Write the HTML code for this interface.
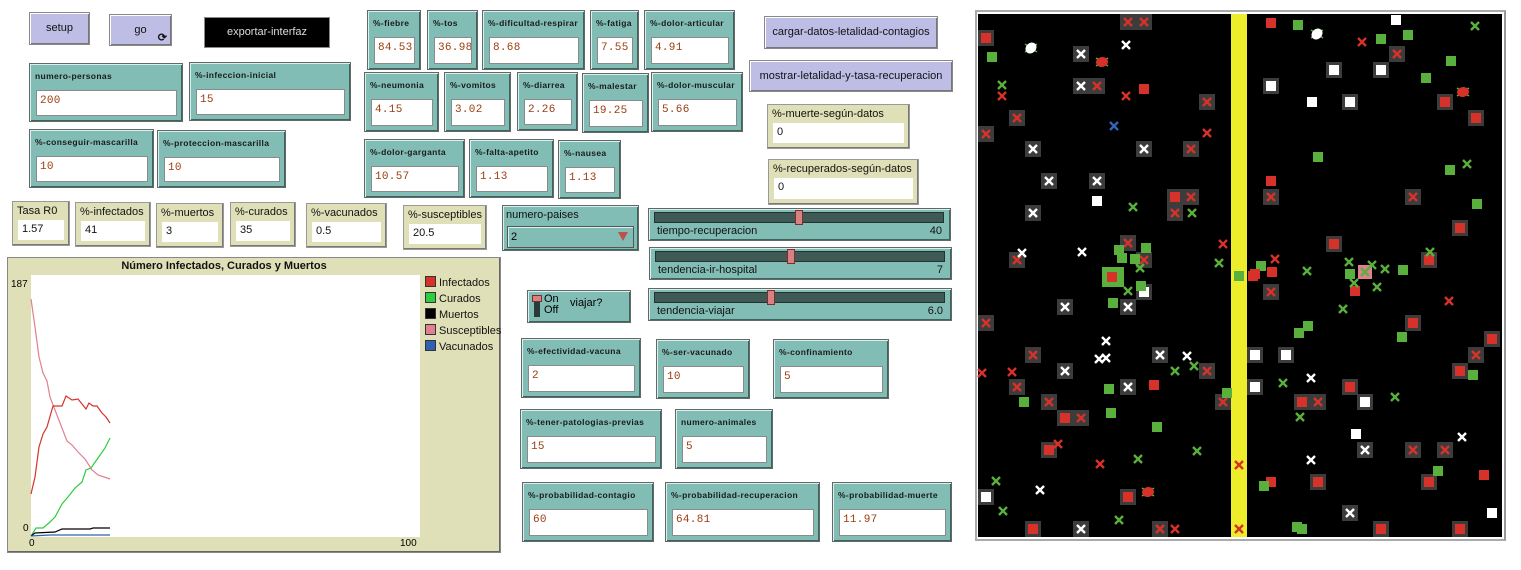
<!DOCTYPE html>
<html><head><meta charset="utf-8">
<style>
body{margin:0;width:1521px;height:570px;background:#fff;position:relative;overflow:hidden;font-family:"Liberation Sans",sans-serif;}
div{box-sizing:border-box;}
.bt{position:absolute;background:#bdbde6;border:1px solid #888;box-shadow:inset 1px 1px 0 #fff,inset -1px -1px 0 #777;font-size:11px;color:#111;text-align:center;}
.in{position:absolute;background:#82bdb5;border:1px solid #666;box-shadow:inset 1px 1px 0 #d6f2ee,inset -1px -1px 0 #3a6660;}
.in .l{position:absolute;left:5px;top:7px;font-size:8.5px;font-weight:bold;letter-spacing:0.35px;color:#1a1a1a;white-space:nowrap;}
.in .v{position:absolute;left:6px;right:5px;top:26px;bottom:5px;background:#fff;border:1px solid #8a8a8a;font-family:"Liberation Mono",monospace;font-size:11px;color:#9a3d10;padding:4px 0 0 3px;letter-spacing:0.3px;white-space:nowrap;overflow:hidden;}
.mo{position:absolute;background:#e0e0b8;border:1px solid #999;box-shadow:inset -1px -1px 0 #777;}
.mo .l{position:absolute;left:4px;top:3px;font-size:11px;color:#111;white-space:nowrap;}
.mo .v{position:absolute;left:5px;right:5px;top:18px;bottom:5px;background:#fff;font-size:11px;color:#111;padding:3px 0 0 4px;}
.sl{position:absolute;background:#82bdb5;border:1px solid #666;box-shadow:inset 1px 1px 0 #d6f2ee,inset -1px -1px 0 #3a6660;}
.sl .t{position:absolute;left:5px;right:6px;top:3px;height:11px;background:#3f5a55;border:1px solid #233;}
.sl .h{position:absolute;top:1px;width:8px;height:15px;background:#d98080;border:1px solid #7a3030;}
.sl .a{position:absolute;left:8px;top:16px;font-size:11px;color:#111;}
.sl .b{position:absolute;right:8px;top:16px;font-size:11px;color:#111;}
</style></head><body>

<div class="bt" style="left:29px;top:12px;width:61px;height:33px;line-height:31px;">setup</div>
<div class="bt" style="left:109px;top:14px;width:63px;height:32px;line-height:30px;">go<span style="position:absolute;right:4px;bottom:1px;font-size:11px;font-weight:bold;line-height:12px;">⟳</span></div>
<div style="position:absolute;left:204px;top:17px;width:126px;height:31px;background:#000;border:1px solid #888;color:#ddd;font-size:11px;text-align:center;line-height:29px;">exportar-interfaz</div>

<div class="in" style="left:29px;top:63px;width:154px;height:59px;"><span class="l">numero-personas</span><div class="v">200</div></div>
<div class="in" style="left:189px;top:62px;width:162px;height:59px;"><span class="l">%-infeccion-inicial</span><div class="v">15</div></div>
<div class="in" style="left:29px;top:129px;width:125px;height:59px;"><span class="l">%-conseguir-mascarilla</span><div class="v">10</div></div>
<div class="in" style="left:157px;top:130px;width:129px;height:58px;"><span class="l">%-proteccion-mascarilla</span><div class="v">10</div></div>

<div class="in" style="left:367px;top:10px;width:54px;height:60px;"><span class="l">%-fiebre</span><div class="v">84.53</div></div>
<div class="in" style="left:427px;top:10px;width:51px;height:60px;"><span class="l">%-tos</span><div class="v">36.98</div></div>
<div class="in" style="left:482px;top:10px;width:103px;height:60px;"><span class="l">%-dificultad-respirar</span><div class="v">8.68</div></div>
<div class="in" style="left:590px;top:10px;width:49px;height:60px;"><span class="l">%-fatiga</span><div class="v">7.55</div></div>
<div class="in" style="left:644px;top:10px;width:91px;height:60px;"><span class="l">%-dolor-articular</span><div class="v">4.91</div></div>

<div class="in" style="left:364px;top:72px;width:75px;height:60px;"><span class="l">%-neumonia</span><div class="v">4.15</div></div>
<div class="in" style="left:444px;top:72px;width:67px;height:60px;"><span class="l">%-vomitos</span><div class="v">3.02</div></div>
<div class="in" style="left:517px;top:72px;width:61px;height:59px;"><span class="l">%-diarrea</span><div class="v">2.26</div></div>
<div class="in" style="left:582px;top:73px;width:67px;height:60px;"><span class="l">%-malestar</span><div class="v">19.25</div></div>
<div class="in" style="left:651px;top:72px;width:92px;height:60px;"><span class="l">%-dolor-muscular</span><div class="v">5.66</div></div>

<div class="in" style="left:364px;top:139px;width:101px;height:59px;"><span class="l">%-dolor-garganta</span><div class="v">10.57</div></div>
<div class="in" style="left:469px;top:139px;width:85px;height:59px;"><span class="l">%-falta-apetito</span><div class="v">1.13</div></div>
<div class="in" style="left:558px;top:140px;width:63px;height:59px;"><span class="l">%-nausea</span><div class="v">1.13</div></div>

<div class="mo" style="left:12px;top:201px;width:58px;height:45px;"><span class="l">Tasa R0</span><div class="v">1.57</div></div>
<div class="mo" style="left:75px;top:202px;width:76px;height:45px;"><span class="l">%-infectados</span><div class="v">41</div></div>
<div class="mo" style="left:156px;top:203px;width:68px;height:45px;"><span class="l">%-muertos</span><div class="v">3</div></div>
<div class="mo" style="left:230px;top:202px;width:66px;height:45px;"><span class="l">%-curados</span><div class="v">35</div></div>
<div class="mo" style="left:306px;top:203px;width:81px;height:45px;"><span class="l">%-vacunados</span><div class="v">0.5</div></div>
<div class="mo" style="left:403px;top:205px;width:84px;height:45px;"><span class="l">%-susceptibles</span><div class="v">20.5</div></div>

<div class="bt" style="left:764px;top:16px;width:174px;height:33px;line-height:31px;">cargar-datos-letalidad-contagios</div>
<div class="bt" style="left:749px;top:60px;width:204px;height:32px;line-height:30px;">mostrar-letalidad-y-tasa-recuperacion</div>
<div class="mo" style="left:767px;top:104px;width:143px;height:45px;"><span class="l">%-muerte-según-datos</span><div class="v">0</div></div>
<div class="mo" style="left:768px;top:159px;width:151px;height:46px;"><span class="l">%-recuperados-según-datos</span><div class="v">0</div></div>

<div class="in" style="left:502px;top:205px;width:137px;height:46px;"><span style="position:absolute;left:3px;top:3px;font-size:11px;color:#111;">numero-paises</span><div style="position:absolute;left:4px;right:4px;top:20px;height:22px;border:1px solid #555;box-shadow:inset 1px 1px 0 #d6f2ee;font-size:11px;padding:4px 0 0 3px;">2<span style="position:absolute;right:5px;top:5px;width:0;height:0;border-left:5px solid transparent;border-right:5px solid transparent;border-top:9px solid #c05050;"></span></div></div>

<div class="sl" style="left:648px;top:208px;width:303px;height:33px;"><div class="t"></div><div class="h" style="left:146px;"></div><span class="a">tiempo-recuperacion</span><span class="b">40</span></div>
<div class="sl" style="left:649px;top:247px;width:303px;height:33px;"><div class="t"></div><div class="h" style="left:137px;"></div><span class="a">tendencia-ir-hospital</span><span class="b">7</span></div>
<div class="sl" style="left:648px;top:288px;width:304px;height:33px;"><div class="t"></div><div class="h" style="left:118px;"></div><span class="a">tendencia-viajar</span><span class="b">6.0</span></div>

<div class="in" style="left:527px;top:290px;width:104px;height:33px;"><div style="position:absolute;left:6px;top:11px;width:6px;height:15px;background:#2a3a38;"></div><div style="position:absolute;left:4px;top:4px;width:10px;height:7px;background:#d98080;border:1px solid #7a3030;"></div><span style="position:absolute;left:16px;top:3px;font-size:11px;line-height:11px;">On<br>Off</span><span style="position:absolute;left:42px;top:6px;font-size:11px;">viajar?</span></div>

<div class="in" style="left:521px;top:338px;width:120px;height:60px;"><span class="l">%-efectividad-vacuna</span><div class="v">2</div></div>
<div class="in" style="left:656px;top:339px;width:94px;height:60px;"><span class="l">%-ser-vacunado</span><div class="v">10</div></div>
<div class="in" style="left:773px;top:339px;width:116px;height:60px;"><span class="l">%-confinamiento</span><div class="v">5</div></div>
<div class="in" style="left:520px;top:409px;width:142px;height:60px;"><span class="l">%-tener-patologias-previas</span><div class="v">15</div></div>
<div class="in" style="left:675px;top:409px;width:98px;height:60px;"><span class="l">numero-animales</span><div class="v">5</div></div>
<div class="in" style="left:522px;top:482px;width:132px;height:60px;"><span class="l">%-probabilidad-contagio</span><div class="v">60</div></div>
<div class="in" style="left:665px;top:482px;width:155px;height:60px;"><span class="l">%-probabilidad-recuperacion</span><div class="v">64.81</div></div>
<div class="in" style="left:832px;top:482px;width:120px;height:60px;"><span class="l">%-probabilidad-muerte</span><div class="v">11.97</div></div>

<!-- plot -->
<div style="position:absolute;left:7px;top:257px;width:494px;height:296px;background:#e0e0b8;border:1px solid #888;box-shadow:inset -1px -1px 0 #666;"></div>
<div style="position:absolute;left:31px;top:275px;width:389px;height:262px;background:#fff;"></div>
<div style="position:absolute;left:7px;top:260px;width:434px;text-align:center;font-size:11px;font-weight:bold;color:#111;">Número Infectados, Curados y Muertos</div>
<div style="position:absolute;left:11px;top:279px;font-size:10px;">187</div>
<div style="position:absolute;left:23px;top:523px;font-size:10px;">0</div>
<div style="position:absolute;left:29px;top:538px;font-size:10px;">0</div>
<div style="position:absolute;left:400px;top:538px;font-size:10px;">100</div>
<div style="position:absolute;left:425px;top:275px;font-size:11px;line-height:16px;color:#111;">
<div><span style="display:inline-block;width:9px;height:9px;background:#d73229;border:1px solid #333;vertical-align:-1px;margin-right:3px;"></span>Infectados</div>
<div><span style="display:inline-block;width:9px;height:9px;background:#2ecc40;border:1px solid #333;vertical-align:-1px;margin-right:3px;"></span>Curados</div>
<div><span style="display:inline-block;width:9px;height:9px;background:#000;border:1px solid #333;vertical-align:-1px;margin-right:3px;"></span>Muertos</div>
<div><span style="display:inline-block;width:9px;height:9px;background:#e08090;border:1px solid #333;vertical-align:-1px;margin-right:3px;"></span>Susceptibles</div>
<div><span style="display:inline-block;width:9px;height:9px;background:#3060b0;border:1px solid #333;vertical-align:-1px;margin-right:3px;"></span>Vacunados</div>
</div>
<svg style="position:absolute;left:0;top:0" width="520" height="560" fill="none" stroke-width="1.2">
<polyline stroke="#e08090" points="31,299 35,327 39,357 43,373 47,381 50,397 55,410 67,441 72,445 78,452 85,459 92,470 98,475 110,479"/>
<polyline stroke="#d73229" points="31,494 35,477 39,447 43,434 47,427 53,406 62,406 66,396 72,400 78,399 86,409 89,403 93,406 97,406 102,413 106,417 110,423"/>
<polyline stroke="#2ecc40" points="31,536 36,528 43,528 50,522 55,517 62,504 68,497 75,488 82,482 86,470 91,468 98,458 105,448 110,438"/>
<polyline stroke="#000" points="31,536 35,533 55,532 62,529 90,529 93,528 110,528"/>
<polyline stroke="#3060b0" points="31,536 50,535 110,535"/>
</svg>

<!-- world -->
<div style="position:absolute;left:975px;top:10px;width:531px;height:531px;border:2px solid #aaa;border-right-color:#999;background:#fff;"></div>
<svg style="position:absolute;left:0;top:0" width="1521" height="570">
<defs>
<rect id="gp" x="-8" y="-8" width="16" height="16" fill="#3c3c3c"/>
<path id="rx" d="M-4,-4L4,4M4,-4L-4,4" stroke="#d73229" stroke-width="2.4"/>
<path id="wx" d="M-4,-4L4,4M4,-4L-4,4" stroke="#fff" stroke-width="2.4"/>
<path id="gx" d="M-4,-4L4,4M4,-4L-4,4" stroke="#59b03c" stroke-width="2.4"/>
<path id="bx" d="M-4,-4L4,4M4,-4L-4,4" stroke="#3464b4" stroke-width="2.4"/>
<rect id="rs" x="-5" y="-5" width="10" height="10" fill="#d73229"/>
<rect id="gs" x="-5" y="-5" width="10" height="10" fill="#59b03c"/>
<rect id="ws" x="-5" y="-5" width="10" height="10" fill="#fff"/>
<g id="gR"><use href="#gp"/><use href="#rx"/></g>
<g id="gW"><use href="#gp"/><use href="#wx"/></g>
<g id="gS"><use href="#gp"/><use href="#rs"/></g>
<g id="gQ"><use href="#gp"/><use href="#ws"/></g>
<g id="tw"><path d="M-6,-4L6,4M-6,4L6,-4" stroke="#59b03c" stroke-width="1.5"/><ellipse rx="5" ry="6" fill="#fff" transform="rotate(45)"/></g>
<g id="tr"><path d="M-6,-4L6,4M-6,4L6,-4" stroke="#59b03c" stroke-width="1.5"/><ellipse rx="5" ry="6" fill="#d73229" transform="rotate(80)"/></g>
</defs>
<rect x="978" y="14" width="524" height="523" fill="#000"/>
<rect x="1231" y="14" width="16" height="523" fill="#eded2c"/>
<g>
<use href="#gR" x="1128" y="22"/><use href="#gR" x="1144" y="22"/><use href="#gS" x="986" y="38"/>
<use href="#gs" x="992" y="57"/><use href="#gW" x="1081" y="54"/><use href="#wx" x="1126" y="45"/>
<use href="#gW" x="1081" y="86"/><use href="#gR" x="1097" y="86"/><use href="#gx" x="1002" y="85"/><use href="#rx" x="1002" y="96"/>
<use href="#rx" x="1126" y="96"/><use href="#rs" x="1144" y="89"/><use href="#gR" x="1207" y="102"/><use href="#gR" x="1017" y="118"/>
<use href="#bx" x="1114" y="126"/><use href="#gR" x="986" y="134"/><use href="#rx" x="1207" y="133"/>
<use href="#gW" x="1033" y="149"/><use href="#gW" x="1144" y="149"/><use href="#gR" x="1191" y="149"/>
<use href="#gW" x="1049" y="181"/><use href="#gW" x="1097" y="181"/><use href="#ws" x="1097" y="201"/>
<use href="#gS" x="1175" y="197"/><use href="#gR" x="1191" y="197"/>
<use href="#gW" x="1033" y="213"/><use href="#gx" x="1133" y="207"/><use href="#gR" x="1175" y="213"/><use href="#gx" x="1192" y="213"/>
<use href="#gR" x="1128" y="243"/><use href="#gR" x="1017" y="260"/><use href="#wx" x="1022" y="253"/><use href="#wx" x="1082" y="252"/>
<use href="#rx" x="1223" y="244"/><use href="#gx" x="1219" y="263"/>
<use href="#gR" x="1144" y="260"/><use href="#gs" x="1119" y="250"/><use href="#gs" x="1146" y="248"/><use href="#gs" x="1122" y="258"/><use href="#gs" x="1135" y="259"/><use href="#gx" x="1140" y="268"/>
<rect x="1102" y="267" width="22" height="20" fill="#59b03c"/><rect x="1107" y="272" width="10" height="10" fill="#d73229"/>
<use href="#gx" x="1128" y="291"/><use href="#gQ" x="1144" y="292"/><use href="#gs" x="1141" y="286"/>
<use href="#gs" x="1113" y="303"/><use href="#gW" x="1128" y="307"/><use href="#gW" x="1065" y="307"/><use href="#gR" x="986" y="323"/>
<use href="#wx" x="1106" y="341"/><use href="#wx" x="1099" y="359"/><use href="#wx" x="1106" y="358"/>
<use href="#gW" x="1160" y="355"/><use href="#wx" x="1187" y="356"/><use href="#gx" x="1194" y="366"/><use href="#gx" x="1175" y="371"/><use href="#gR" x="1207" y="371"/>
<use href="#gR" x="1033" y="355"/><use href="#gW" x="1065" y="371"/><use href="#rx" x="982" y="373"/><use href="#rx" x="1012" y="372"/>
<use href="#gR" x="1017" y="387"/><use href="#gs" x="1024" y="402"/><use href="#gR" x="1049" y="402"/>
<use href="#gS" x="1065" y="418"/><use href="#gR" x="1081" y="418"/><use href="#gs" x="1109" y="389"/><use href="#gW" x="1128" y="387"/><use href="#rs" x="1154" y="385"/>
<use href="#gs" x="1111" y="413"/><use href="#gs" x="1157" y="427"/><use href="#gR" x="1223" y="402"/><use href="#gs" x="1227" y="393"/>
<use href="#gS" x="1049" y="450"/><use href="#rx" x="1058" y="444"/><use href="#rx" x="1100" y="464"/><use href="#gx" x="1138" y="459"/><use href="#gx" x="1197" y="451"/>
<use href="#rx" x="1239" y="465"/><use href="#rx" x="1239" y="529"/><use href="#gs" x="1239" y="276"/><use href="#rs" x="1253" y="276"/>
<use href="#gx" x="996" y="481"/><use href="#wx" x="1040" y="490"/><use href="#gQ" x="986" y="497"/><use href="#gx" x="1003" y="511"/>
<use href="#gS" x="1128" y="497"/><use href="#gx" x="1119" y="520"/><use href="#gS" x="1033" y="529"/><use href="#gW" x="1081" y="529"/><use href="#gR" x="1160" y="529"/><use href="#rx" x="1175" y="529"/>
<use href="#tw" x="1031" y="48"/><use href="#tr" x="1102" y="62"/><use href="#tr" x="1148" y="492"/>

<use href="#rs" x="1271" y="23"/><use href="#gs" x="1298" y="25"/><use href="#ws" x="1396" y="20"/><use href="#gx" x="1475" y="26"/>
<use href="#rx" x="1362" y="42"/><use href="#gs" x="1381" y="39"/><use href="#gs" x="1408" y="35"/><use href="#gR" x="1397" y="54"/>
<use href="#gQ" x="1334" y="70"/><use href="#gQ" x="1381" y="70"/><use href="#gs" x="1451" y="61"/><use href="#gs" x="1426" y="78"/>
<use href="#gQ" x="1271" y="86"/><use href="#ws" x="1312" y="102"/><use href="#gQ" x="1350" y="102"/>
<use href="#gS" x="1445" y="102"/><use href="#gS" x="1476" y="118"/>
<use href="#gs" x="1318" y="157"/><use href="#gx" x="1467" y="164"/><use href="#gs" x="1450" y="170"/>
<use href="#rs" x="1271" y="181"/><use href="#gR" x="1271" y="197"/><use href="#gR" x="1413" y="197"/><use href="#gs" x="1477" y="204"/>
<use href="#gS" x="1460" y="228"/><use href="#gS" x="1334" y="244"/><use href="#gS" x="1429" y="260"/><use href="#gx" x="1430" y="252"/>
<use href="#rx" x="1275" y="259"/><use href="#gs" x="1261" y="266"/><use href="#rs" x="1272" y="272"/><use href="#rs" x="1255" y="274"/>
<use href="#gx" x="1307" y="271"/><use href="#gx" x="1349" y="262"/><use href="#gs" x="1350" y="274"/>
<rect x="1358" y="265" width="14" height="14" fill="#e08090"/><use href="#gx" x="1365" y="272"/>
<use href="#gx" x="1372" y="265"/><use href="#gx" x="1385" y="269"/><use href="#gs" x="1403" y="270"/>
<use href="#gR" x="1271" y="292"/><use href="#rs" x="1355" y="291"/><use href="#gx" x="1354" y="283"/><use href="#gx" x="1377" y="287"/>
<use href="#rx" x="1449" y="301"/><use href="#gx" x="1343" y="309"/>
<use href="#gS" x="1413" y="323"/><use href="#gs" x="1308" y="326"/><use href="#gs" x="1299" y="333"/><use href="#gs" x="1402" y="337"/>
<use href="#gS" x="1492" y="339"/><use href="#gR" x="1476" y="355"/><use href="#gS" x="1460" y="371"/><use href="#gs" x="1473" y="375"/>
<use href="#gQ" x="1255" y="355"/><use href="#gQ" x="1286" y="355"/>
<use href="#gQ" x="1255" y="387"/><use href="#gx" x="1283" y="383"/><use href="#wx" x="1311" y="378"/>
<use href="#gS" x="1350" y="387"/><use href="#gS" x="1302" y="402"/><use href="#gR" x="1318" y="402"/><use href="#gQ" x="1365" y="402"/><use href="#gx" x="1395" y="397"/>
<use href="#gx" x="1300" y="417"/><use href="#ws" x="1356" y="434"/><use href="#wx" x="1462" y="437"/>
<use href="#gW" x="1365" y="450"/><use href="#gR" x="1413" y="450"/><use href="#gR" x="1445" y="450"/><use href="#wx" x="1311" y="460"/>
<use href="#rs" x="1271" y="482"/><use href="#gs" x="1264" y="486"/><use href="#gS" x="1318" y="482"/><use href="#gS" x="1429" y="482"/><use href="#gs" x="1438" y="471"/><use href="#rs" x="1484" y="475"/>
<use href="#gW" x="1350" y="513"/><use href="#ws" x="1492" y="513"/>
<use href="#gs" x="1297" y="527"/><use href="#gs" x="1302" y="529"/><use href="#gS" x="1381" y="529"/><use href="#gS" x="1460" y="529"/>
<use href="#tw" x="1317" y="34"/><use href="#tr" x="1463" y="92"/>
</g>
</svg>
</body></html>
